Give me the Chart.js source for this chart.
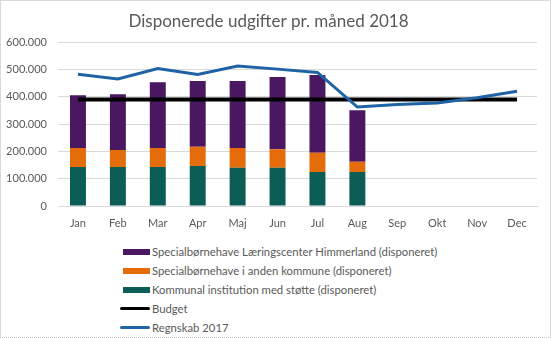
<!DOCTYPE html>
<html>
<head>
<meta charset="utf-8">
<script src="https://cdn.jsdelivr.net/npm/chart.js@4/dist/chart.umd.min.js"></script>
<style>
  html, body { margin: 0; padding: 0; background: #fff; }
  #wrap {
    position: relative; width: 551px; height: 338px; box-sizing: border-box;
    border: 1px solid #d9d9d9; border-bottom: 1px dotted #bfbfbf; overflow: hidden;
  }
  #holder { position: absolute; left: -1px; top: -1px; width: 551px; height: 232px; }
  #legend { position: absolute; left: 119px; top: 241px; font-family: Lato, sans-serif; font-size: 11.3px; color: #595959; }
  .item { height: 19px; line-height: 19px; display: flex; align-items: center; white-space: nowrap; }
  .sw { display: inline-block; flex: none; margin-right: 2px; }
</style>
</head>
<body>
<div id="wrap">
  <div id="holder"><canvas id="myChart"></canvas></div>
  <div id="legend"></div>
</div>
<script>
// setup block
const labels = ['Jan', 'Feb', 'Mar', 'Apr', 'Maj', 'Jun', 'Jul', 'Aug', 'Sep', 'Okt', 'Nov', 'Dec'];

// disponeret, stacked bars (Jan-Aug)
const kommunal = [143000, 143000, 143000, 147000, 140000, 140000, 125000, 125000, null, null, null, null];
const andenKommune = [70000, 62000, 70000, 70000, 73000, 68000, 70000, 37000, null, null, null, null];
const himmerland = [193000, 205000, 241000, 241000, 245000, 265000, 285000, 189000, null, null, null, null];

// lines
const budget = [391000, 391000, 391000, 391000, 391000, 391000, 391000, 391000, 391000, 391000, 391000, 391000];
const regnskab2017 = [483000, 466000, 504000, 482000, 513000, 502000, 490000, 363000, 372000, 378000, 397000, 421000];

const yTicks = [0, 100000, 200000, 300000, 400000, 500000, 600000];

function fmt(v) {
    return String(v).replace(/\B(?=(\d{3})+(?!\d))/g, '.');
}

const data = {
    labels: labels,
    datasets: [{
        type: 'line',
        label: 'Budget',
        stack: 'budget',
        data: budget,
        borderColor: '#000000',
        backgroundColor: '#000000',
        borderWidth: 4,
        pointRadius: 0,
        tension: 0,
        order: 1
    }, {
        type: 'line',
        label: 'Regnskab 2017',
        stack: 'regnskab',
        data: regnskab2017,
        borderColor: '#1f63a6',
        backgroundColor: '#1f63a6',
        borderWidth: 3,
        pointRadius: 0,
        tension: 0,
        order: 0
    }, {
        label: 'Kommunal institution med støtte (disponeret)',
        stack: 'disp',
        data: kommunal,
        backgroundColor: '#0b5d56',
        order: 2
    }, {
        label: 'Specialbørnehave i anden kommune (disponeret)',
        stack: 'disp',
        data: andenKommune,
        backgroundColor: '#e46c0a',
        order: 2
    }, {
        label: 'Specialbørnehave Læringscenter Himmerland (disponeret)',
        stack: 'disp',
        data: himmerland,
        backgroundColor: '#4a1861',
        order: 2
    }]
};

//config block
const config = {
    type: 'bar',
    data: data,
    options: {
        responsive: true,
        maintainAspectRatio: false,
        animation: false,
        datasets: { bar: { categoryPercentage: 1, barPercentage: 0.4 } },
        layout: { padding: { left: 0, right: 14, top: 0, bottom: 0 } },
        plugins: {
            legend: { display: false },
            tooltip: { enabled: false },
            title: {
                display: true,
                text: 'Disponerede udgifter pr. måned 2018',
                color: '#595959',
                font: { family: 'Lato, sans-serif', size: 17, weight: 'normal' },
                padding: { top: 11, bottom: 11 }
            }
        },
        scales: {
            x: {
                stacked: true,
                grid: { display: false },
                border: { display: true, color: '#d9d9d9' },
                ticks: { color: '#595959', font: { family: 'Lato, sans-serif', size: 11 }, padding: 3 },
                afterFit: function (s) { s.height = 26; }
            },
            y: {
                stacked: true,
                min: 0,
                max: 600000,
                afterBuildTicks: function (s) { s.ticks = yTicks.map(v => ({ value: v })); },
                grid: { color: '#d9d9d9', drawTicks: false },
                border: { display: false },
                ticks: {
                    color: '#595959',
                    font: { family: 'Lato, sans-serif', size: 11 },
                    padding: 11,
                    callback: v => fmt(v)
                },
                afterFit: function (s) { s.width = 58; }
            }
        }
    }
};

//render block
const myChart = new Chart(document.getElementById('myChart'), config);

// legend, same order as the reference
const legendOrder = [4, 3, 2, 0, 1];
const legendBox = document.getElementById('legend');
legendOrder.forEach(function (i) {
    const ds = data.datasets[i];
    const row = document.createElement('div');
    row.className = 'item';
    const sw = document.createElement('span');
    sw.className = 'sw';
    if (ds.type === 'line') {
        sw.style.width = '30px';
        sw.style.height = '3px';
        sw.style.background = ds.borderColor;
        sw.style.borderRadius = '2px';
    } else {
        sw.style.width = '27px';
        sw.style.height = '6px';
        sw.style.marginLeft = '3px';
        sw.style.background = ds.backgroundColor;
    }
    const txt = document.createElement('span');
    txt.textContent = ds.label;
    row.appendChild(sw);
    row.appendChild(txt);
    legendBox.appendChild(row);
});
</script>
</body>
</html>
